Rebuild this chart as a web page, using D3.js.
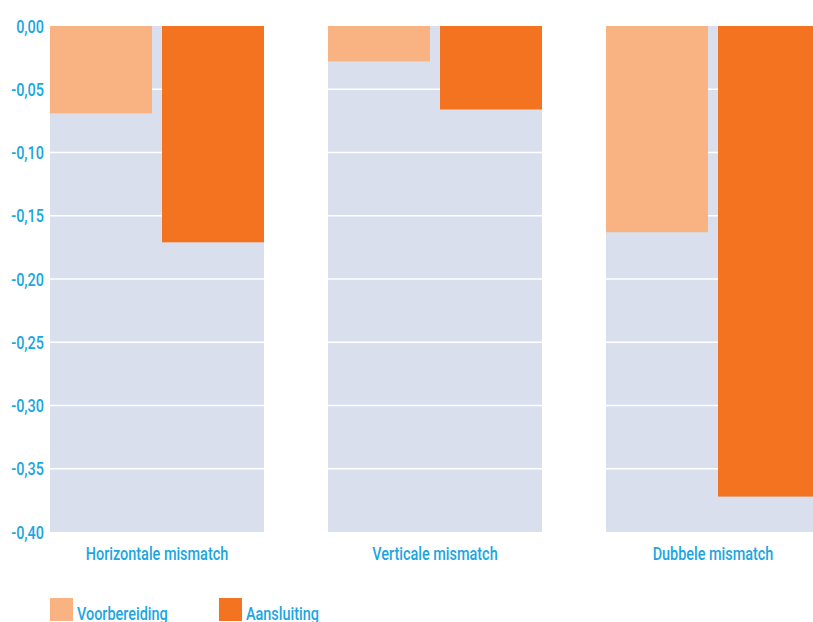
<!DOCTYPE html>
<html>
<head>
<meta charset="utf-8">
<script src="https://cdn.jsdelivr.net/npm/d3@7"></script>
<style>
  body { margin: 0; background: #fff; }
  text { font-family: Roboto, "Liberation Sans", Arial, sans-serif; font-weight: 500; fill: #1ba6e0; font-size: 19px; }
</style>
</head>
<body>
<div id="chart"></div>
<script>
// data
var categories = ["Horizontale mismatch", "Verticale mismatch", "Dubbele mismatch"];
var seriesNames = ["Voorbereiding", "Aansluiting"];
var voorbereiding = [-0.069, -0.028, -0.163];
var aansluiting = [-0.171, -0.066, -0.372];
var yTicks = [0, -0.05, -0.10, -0.15, -0.20, -0.25, -0.30, -0.35, -0.40];
var colors = ["#f9b382", "#f37321"];

var width = 813, height = 622;
var narrow = 0.76; // condensed look
var svg = d3.select("#chart").append("svg")
    .attr("width", width)
    .attr("height", height);

// scales
var y = d3.scaleLinear().domain([0, -0.40]).range([26, 532]);
var x = d3.scaleBand().domain(categories).range([50, 820]).paddingInner(64 / 278).paddingOuter(0);
var xs = d3.scaleBand().domain(seriesNames).range([0, x.bandwidth()]).paddingInner(10 / 112);

function place(px, py) {
    return "translate(" + px + "," + py + ") scale(" + narrow + ",1)";
}

// panels
svg.selectAll("rect.panel")
    .data(categories)
    .enter().append("rect")
    .attr("class", "panel")
    .attr("x", function (d) { return x(d); })
    .attr("y", y(0))
    .attr("width", x.bandwidth())
    .attr("height", y(-0.40) - y(0))
    .attr("fill", "#d9dfec");

// gridlines
categories.forEach(function (c) {
    svg.selectAll(null)
        .data(yTicks.slice(1, -1))
        .enter().append("line")
        .attr("x1", x(c))
        .attr("x2", x(c) + x.bandwidth())
        .attr("y1", function (d) { return y(d); })
        .attr("y2", function (d) { return y(d); })
        .attr("stroke", "#fff")
        .attr("stroke-width", 1.5);
});

// bars
var rows = categories.map(function (c, i) {
    return { cat: c, values: [voorbereiding[i], aansluiting[i]] };
});
var groups = svg.selectAll("g.group")
    .data(rows)
    .enter().append("g")
    .attr("transform", function (d) { return "translate(" + x(d.cat) + ",0)"; });
groups.selectAll("rect")
    .data(function (d) { return d.values.map(function (v, j) { return { s: seriesNames[j], v: v, j: j }; }); })
    .enter().append("rect")
    .attr("x", function (d) { return xs(d.s); })
    .attr("y", y(0))
    .attr("width", xs.bandwidth())
    .attr("height", function (d) { return y(d.v) - y(0); })
    .attr("fill", function (d) { return colors[d.j]; });

// y axis labels
svg.selectAll("text.ytick")
    .data(yTicks)
    .enter().append("text")
    .attr("class", "ytick")
    .attr("transform", function (d) { return place(44, y(d)); })
    .attr("dy", "0.35em")
    .attr("text-anchor", "end")
    .text(function (d) { return d3.format(".2f")(d).replace("−", "-").replace(".", ","); });

// category labels
svg.selectAll("text.cat")
    .data(categories)
    .enter().append("text")
    .attr("class", "cat")
    .attr("transform", function (d) { return place(x(d) + x.bandwidth() / 2, 560); })
    .attr("text-anchor", "middle")
    .text(function (d) { return d; });

// legend
var legendX = [50, 219];
seriesNames.forEach(function (s, i) {
    svg.append("rect")
        .attr("x", legendX[i])
        .attr("y", 598)
        .attr("width", 23)
        .attr("height", 23)
        .attr("fill", colors[i]);
    svg.append("text")
        .attr("transform", place(legendX[i] + 27, 620))
        .text(s);
});
</script>
</body>
</html>
